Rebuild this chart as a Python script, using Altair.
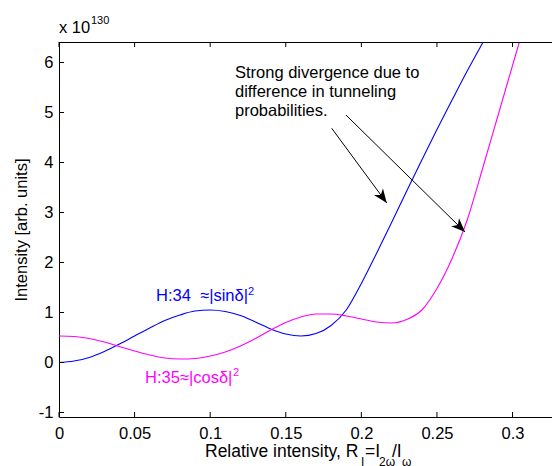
import math
import altair as alt
import pandas as pd

FONT = "Liberation Sans"

# ---- data ----
x_h34 = [0.00, 0.01, 0.02, 0.03, 0.04, 0.05, 0.06, 0.07, 0.08, 0.09, 0.10,
         0.11, 0.12, 0.13, 0.14, 0.15, 0.16, 0.17, 0.18, 0.19, 0.20,
         0.21, 0.22, 0.23, 0.24, 0.25, 0.26, 0.27, 0.28, 0.29, 0.30]
h34_sin = [0.00, 0.03, 0.10, 0.22, 0.37, 0.53, 0.69, 0.84, 0.95, 1.03, 1.05,
           1.02, 0.94, 0.81, 0.67, 0.57, 0.53, 0.58, 0.74, 1.05, 1.58,
           2.18, 2.80, 3.43, 4.05, 4.66, 5.25, 5.83, 6.38, 6.92, 7.45]

x_h35 = [0.00, 0.01, 0.02, 0.03, 0.04, 0.05, 0.06, 0.07, 0.08, 0.09, 0.10,
         0.11, 0.12, 0.13, 0.14, 0.15, 0.16, 0.17, 0.18, 0.19, 0.20,
         0.21, 0.22, 0.23, 0.24, 0.25, 0.26, 0.27, 0.28, 0.29, 0.30, 0.31]
h35_cos = [0.53, 0.52, 0.48, 0.41, 0.32, 0.23, 0.15, 0.09, 0.07, 0.08, 0.13,
           0.21, 0.33, 0.48, 0.65, 0.80, 0.91, 0.97, 0.97, 0.93, 0.87,
           0.81, 0.79, 0.86, 1.05, 1.48, 2.08, 2.85, 3.86, 4.90, 5.94, 6.98]

x_ticks = [0, 0.05, 0.1, 0.15, 0.2, 0.25, 0.3]
y_ticks = [-1, 0, 1, 2, 3, 4, 5, 6]

note_lines = ["Strong divergence due to", "difference in tunneling", "probabilities."]
note_x = [0.1164, 0.1164, 0.1164]
note_y = [5.684, 5.31, 4.93]

arrow_x1 = [0.1804, 0.1898]
arrow_y1 = [4.684, 4.95]
arrow_x2 = [0.2168, 0.2686]
arrow_y2 = [3.19, 2.61]

label34 = "H:34\u00a0 \u2248|sin\u03b4|"
label35 = "H:35\u2248|cos\u03b4|"
label34_xy = (0.0642, 1.236)
label35_xy = (0.0569, -0.41)

# ---- layout ----
X_DOMAIN = [0, 0.3261]
Y_DOMAIN = [-1.09, 6.41]
W, H = 493, 375
LEFT, TOP = 59, 42
BLUE = "#0000ff"
MAGENTA = "#ff00ff"

xs = alt.Scale(domain=X_DOMAIN, nice=False, zero=False)
ys = alt.Scale(domain=Y_DOMAIN, nice=False, zero=False)

df34 = pd.DataFrame({"x": x_h34, "y": h34_sin})
df35 = pd.DataFrame({"x": x_h35, "y": h35_cos})
one = pd.DataFrame({"a": [0]})

line34 = alt.Chart(df34).mark_line(color=BLUE, strokeWidth=1.1, clip=True,
                                   interpolate="monotone").encode(
    x=alt.X("x:Q", scale=xs, axis=alt.Axis(
        orient="bottom", values=x_ticks, title=None, labelExpr="datum.value + ''",
        ticks=False, tickSize=0, labelPadding=8, labelFlush=False,
        labelOverlap=False, domain=True, domainColor="black", domainWidth=1,
        labelFont=FONT, labelFontSize=16.5, labelColor="black", grid=False)),
    y=alt.Y("y:Q", scale=ys, axis=alt.Axis(
        orient="left", values=y_ticks, title="Intensity [arb. units]",
        labelExpr="datum.value + ''",
        ticks=False, tickSize=0, labelPadding=6, labelFlush=False,
        labelOverlap=False, domain=True, domainColor="black", domainWidth=1,
        labelFont=FONT, labelFontSize=16.5, labelColor="black", grid=False,
        titleFont=FONT, titleFontSize=16.5, titleFontWeight="normal",
        titleColor="black", titleAngle=270, titleX=-38, titleY=H / 2,
        titleAlign="center", titleBaseline="middle")),
)

line35 = alt.Chart(df35).mark_line(color=MAGENTA, strokeWidth=1.1, clip=True,
                                   interpolate="monotone").encode(
    x=alt.X("x:Q", scale=xs, axis=None),
    y=alt.Y("y:Q", scale=ys, axis=None),
)

# inward ticks (MATLAB style)
dfxt = pd.DataFrame({"x": x_ticks})
dfyt = pd.DataFrame({"y": y_ticks})
tick_bottom = alt.Chart(dfxt).mark_rule(color="black", strokeWidth=1).encode(
    x=alt.X("x:Q", scale=xs, axis=None), y=alt.value(H), y2=alt.value(H - 5))
tick_top = alt.Chart(dfxt).mark_rule(color="black", strokeWidth=1).encode(
    x=alt.X("x:Q", scale=xs, axis=None), y=alt.value(0), y2=alt.value(5))
tick_left = alt.Chart(dfyt).mark_rule(color="black", strokeWidth=1).encode(
    y=alt.Y("y:Q", scale=ys, axis=None), x=alt.value(0), x2=alt.value(5))
top_border = alt.Chart(one).mark_rule(color="black", strokeWidth=1).encode(
    x=alt.value(0), x2=alt.value(W), y=alt.value(0.5))

# annotation text
dfnote = pd.DataFrame({"x": note_x, "y": note_y, "t": note_lines})
note = alt.Chart(dfnote).mark_text(align="left", baseline="alphabetic", font=FONT,
                                   fontSize=16.5, color="black").encode(
    x=alt.X("x:Q", scale=xs, axis=None), y=alt.Y("y:Q", scale=ys, axis=None), text="t:N")

# arrows
px_x = W / (X_DOMAIN[1] - X_DOMAIN[0])
px_y = H / (Y_DOMAIN[1] - Y_DOMAIN[0])
angles = []
for a, b, c, d in zip(arrow_x1, arrow_y1, arrow_x2, arrow_y2):
    dxp = (c - a) * px_x
    dyp = -(d - b) * px_y
    angles.append(math.degrees(math.atan2(dxp, -dyp)) % 360)
dfarr = pd.DataFrame({"x1": arrow_x1, "y1": arrow_y1, "x2": arrow_x2,
                      "y2": arrow_y2, "ang": angles})
shafts = alt.Chart(dfarr).mark_rule(color="black", strokeWidth=1).encode(
    x=alt.X("x1:Q", scale=xs, axis=None), y=alt.Y("y1:Q", scale=ys, axis=None),
    x2="x2:Q", y2="y2:Q")
ARROW_PATH = "M0,0 L0.4,1 L0,0.72 L-0.4,1 Z"
heads = alt.Chart(dfarr).mark_point(shape=ARROW_PATH, filled=True, size=784,
                                    color="black", opacity=1, strokeWidth=0).encode(
    x=alt.X("x2:Q", scale=xs, axis=None), y=alt.Y("y2:Q", scale=ys, axis=None),
    angle=alt.Angle("ang:Q", scale=None))


def dlabel(text, xy, color, size, dx=0, dy=0):
    d = pd.DataFrame({"x": [xy[0]], "y": [xy[1]]})
    return alt.Chart(d).mark_text(text=text, align="left", baseline="alphabetic",
                                  font=FONT, fontSize=size, color=color, dx=dx, dy=dy).encode(
        x=alt.X("x:Q", scale=xs, axis=None), y=alt.Y("y:Q", scale=ys, axis=None))


lab34 = dlabel(label34, label34_xy, BLUE, 16.5)
lab34s = dlabel("2", label34_xy, BLUE, 11, dx=92, dy=-6)
lab35 = dlabel(label35, label35_xy, MAGENTA, 16.5)
lab35s = dlabel("2", label35_xy, MAGENTA, 11, dx=88, dy=-7)


def ptext(text, px, py, size):
    return alt.Chart(one).mark_text(text=text, align="left", baseline="alphabetic",
                                    font=FONT, fontSize=size, color="black").encode(
        x=alt.value(px - LEFT), y=alt.value(py - TOP))


# x-axis title with subscripts, exponent label
title_parts = [
    ptext("Relative intensity, R", 205, 456.7, 17.5),
    ptext("I", 361, 466, 12),
    ptext("=I", 365, 456.7, 17.5),
    ptext("2\u03c9", 379, 466, 12),
    ptext("/I", 392, 456.7, 17.5),
    ptext("\u03c9", 402, 466, 12),
    ptext("x 10", 59, 33.3, 16.5),
    ptext("130", 91, 24, 11),
]

chart = alt.layer(
    line34, line35, tick_bottom, tick_top, tick_left, top_border,
    shafts, heads, note, lab34, lab34s, lab35, lab35s, *title_parts
).resolve_axis(
    x="independent", y="independent"
).properties(
    width=W, height=H,
    padding={"left": LEFT, "top": TOP, "right": 0, "bottom": 466 - TOP - H},
    autosize=alt.AutoSizeParams(type="none"),
    background="white",
).configure_view(stroke=None)

chart.save("out.html", embed_options={"renderer": "svg", "actions": False})
